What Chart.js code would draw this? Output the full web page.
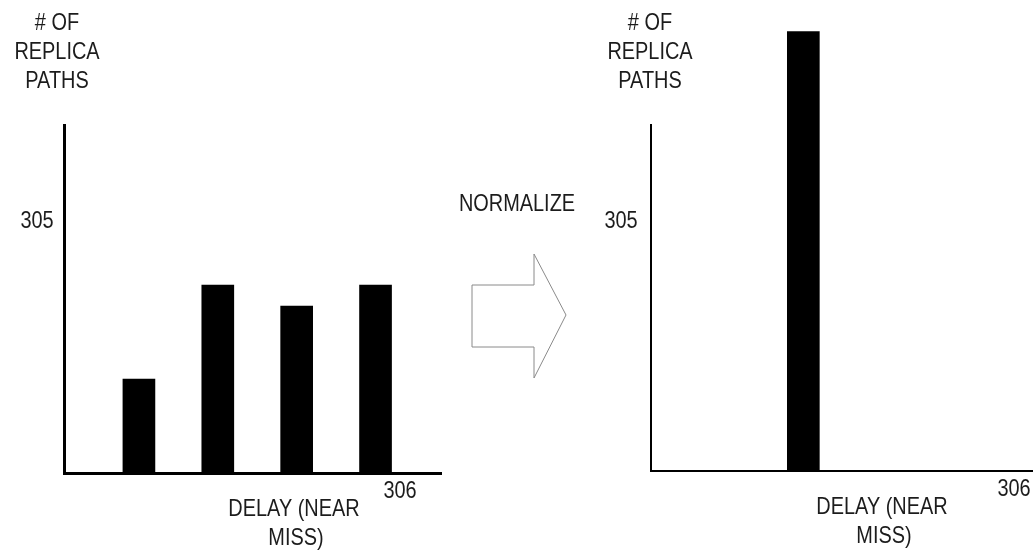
<!DOCTYPE html>
<html>
<head>
<meta charset="utf-8">
<title>Replica path histogram normalization</title>
<script src="https://cdn.jsdelivr.net/npm/chart.js@4.4.1/dist/chart.umd.min.js"></script>
<style>
  html, body { margin: 0; padding: 0; background: #ffffff; overflow: hidden; }
  #wrap { position: relative; width: 1033px; height: 551px; }
  canvas { position: absolute; top: 0; }
  #before { left: 0; }
  #after { left: 516px; }
</style>
</head>
<body>
<div id="wrap">
  <canvas id="before" width="600" height="551"></canvas>
  <canvas id="after" width="517" height="551"></canvas>
</div>
<script>
// Delay bins (near-miss delay) and the number of replica paths in each bin
const delayBins = [1, 2, 3, 4];
const pathCountsBefore = [27, 54, 48, 54];

// After normalization all paths collapse into a single delay bin
const normalizedBins = [2];
const normalizedCounts = [127];

// Text labels
const yAxisTitle = ['# OF', 'REPLICA', 'PATHS'];
const xAxisTitle = ['DELAY (NEAR', 'MISS)'];
const histogramRef = '305';
const delayAxisRef = '306';
const arrowLabel = 'NORMALIZE';

const INK = '#1c1c1c';
const FONT_PX = 24;
const NARROW = 0.83;

// Condensed sans text, centred on (cx, cy)
function drawLabel(ctx, text, cx, cy) {
  ctx.save();
  ctx.translate(cx, cy);
  ctx.scale(NARROW, 1);
  ctx.font = FONT_PX + 'px "Liberation Sans", Arial, sans-serif';
  ctx.fillStyle = INK;
  ctx.textAlign = 'center';
  ctx.textBaseline = 'middle';
  ctx.fillText(text, 0, 0);
  ctx.restore();
}

// Hollow block arrow between the two histograms
function drawArrow(ctx) {
  ctx.save();
  ctx.beginPath();
  ctx.moveTo(472, 285);
  ctx.lineTo(534, 285);
  ctx.lineTo(534, 254);
  ctx.lineTo(566, 315);
  ctx.lineTo(534, 378);
  ctx.lineTo(534, 347);
  ctx.lineTo(472, 347);
  ctx.closePath();
  ctx.strokeStyle = '#8a8a8a';
  ctx.lineWidth = 1;
  ctx.stroke();
  ctx.restore();
  drawLabel(ctx, arrowLabel, 517, 204);
}

// Axis captions and reference numerals, placed relative to the plot area
function captionPlugin(opts) {
  return {
    id: 'captions',
    afterDraw(chart) {
      const ctx = chart.ctx;
      const a = chart.chartArea;
      yAxisTitle.forEach((t, i) => drawLabel(ctx, t, a.left + opts.yTitleDx, 23 + i * 29));
      drawLabel(ctx, histogramRef, a.left + opts.refDx, 221);
      drawLabel(ctx, delayAxisRef, opts.delayRefX, a.bottom + 18);
      drawLabel(ctx, xAxisTitle[0], opts.xTitleX, a.bottom + 36);
      drawLabel(ctx, xAxisTitle[1], opts.xTitleX + 2, a.bottom + 65);
      if (opts.arrow) drawArrow(ctx);
    }
  };
}

function histogram(canvasId, bins, counts, cfg) {
  const points = bins.map((b, i) => ({ x: b, y: counts[i] }));
  return new Chart(document.getElementById(canvasId), {
    type: 'bar',
    data: {
      datasets: [{
        data: points,
        backgroundColor: '#000000',
        borderWidth: 0,
        barThickness: 32,
        clip: false
      }]
    },
    options: {
      responsive: false,
      animation: false,
      events: [],
      layout: { padding: cfg.padding },
      plugins: { legend: { display: false }, tooltip: { enabled: false } },
      scales: {
        x: {
          type: 'linear',
          offset: false,
          min: cfg.xMin,
          max: cfg.xMax,
          ticks: { display: false },
          grid: { display: false, drawTicks: false },
          border: { display: true, color: '#000000', width: cfg.axisWidth }
        },
        y: {
          min: 0,
          max: 100,
          ticks: { display: false },
          grid: { display: false, drawTicks: false },
          border: { display: true, color: '#000000', width: cfg.axisWidth }
        }
      }
    },
    plugins: [captionPlugin(cfg.captions)]
  });
}

// Original distribution (left); its canvas also carries the NORMALIZE arrow
histogram('before', delayBins, pathCountsBefore, {
  padding: { left: 64, top: 125, right: 159, bottom: 78 },
  xMin: 0.05, xMax: 4.83, axisWidth: 3,
  captions: { yTitleDx: -7, refDx: -27, delayRefX: 400, xTitleX: 294, arrow: true }
});

// Normalized distribution (right)
histogram('after', normalizedBins, normalizedCounts, {
  padding: { left: 135, top: 125, right: 0, bottom: 80 },
  xMin: 0.07, xMax: 4.91, axisWidth: 2,
  captions: { yTitleDx: -1, refDx: -30, delayRefX: 498, xTitleX: 366, arrow: false }
});
</script>
</body>
</html>
